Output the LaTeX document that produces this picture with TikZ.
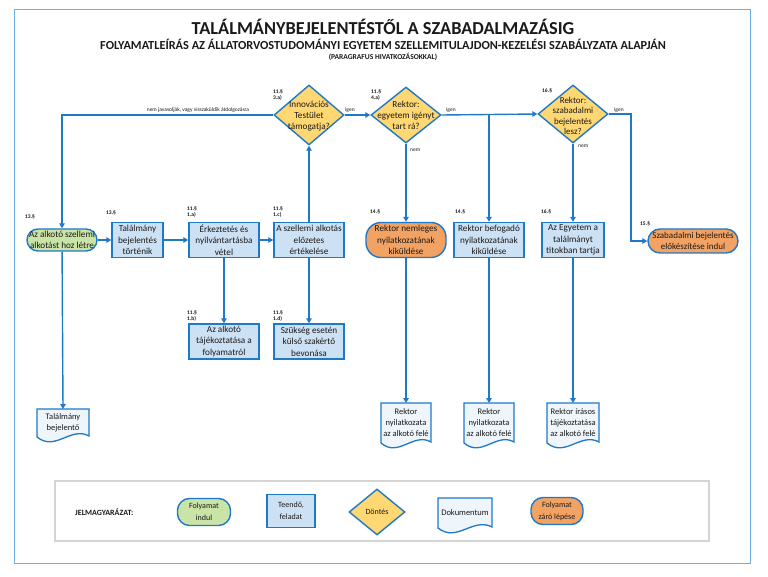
\documentclass[tikz,border=0pt]{standalone}
\usepackage{fontspec}
\setmainfont{Carlito}
\usetikzlibrary{shapes.geometric,arrows.meta}
\definecolor{lineblue}{HTML}{1F78C8}
\definecolor{boxfill}{HTML}{CDE1F4}
\definecolor{docfill}{HTML}{EEF5FB}
\definecolor{greenfill}{HTML}{C9E4A6}
\definecolor{orangefill}{HTML}{F2A262}
\definecolor{decfill}{HTML}{FFD873}
\definecolor{framec}{HTML}{6CB0E6}
\definecolor{legc}{HTML}{D4D4D4}
\definecolor{txt}{HTML}{1A1A1A}
\tikzset{
  base/.style={font=\fontsize{9.2}{11.5}\selectfont, align=center, inner sep=0pt, line width=1.4pt, draw=lineblue, text=txt},
  task/.style={base, rectangle, fill=boxfill},
  term/.style={base, rectangle, rounded corners=#1},
  dec/.style={diamond, draw=lineblue, fill=decfill, line width=1.4pt, inner sep=0pt},
  dtext/.style={font=\fontsize{9.2}{11}\selectfont, align=center, inner sep=0pt, text=txt},
  docst/.style={draw=lineblue, fill=docfill, line width=1.3pt},
  doctext/.style={font=\fontsize{8.5}{11}\selectfont, align=center, inner sep=0pt, text=txt},
  arr/.style={draw=lineblue, line width=1.4pt, -{Triangle[length=5pt,width=5.5pt]}},
  para/.style={font=\fontsize{5.5}{6.5}\selectfont\bfseries, align=left, inner sep=0pt, anchor=west, text=txt},
  elab/.style={font=\fontsize{5.5}{6.5}\selectfont, inner sep=0pt, text=txt},
  legtext/.style={font=\fontsize{8}{12}\selectfont, align=center, inner sep=0pt, text=txt},
}
\newcommand\docat[6]{%
  \path[docst] ({#2-#4/2},{#3}) -- ({#2+#4/2},{#3}) -- ({#2+#4/2},{#3+#5-6})
    .. controls ({#2+#4/2-0.35*#4},{#3+#5-16}) and ({#2-#4/2+0.35*#4},{#3+#5+10}) ..
    ({#2-#4/2},{#3+#5-5}) -- cycle;
  \node[doctext] (#1) at ({#2},{#3+(#5-6)/2}) {#6};
  \coordinate (#1t) at ({#2},{#3});
}
\begin{document}
\begin{tikzpicture}[x=1pt,y=-1pt]
\useasboundingbox (0,0) rectangle (768,577);
\fill[white] (0,0) rectangle (768,577);
\draw[framec, line width=1pt] (14,10) rectangle (750,563);

% titles
\node[font=\fontsize{18.3}{20}\selectfont\bfseries, text=txt, inner sep=0pt] (title) at (383,27) {TALÁLMÁNYBEJELENTÉSTŐL A SZABADALMAZÁSIG};
\node[font=\fontsize{12.3}{14}\selectfont\bfseries, text=txt, inner sep=0pt] (subtitle) at (383,44) {FOLYAMATLEÍRÁS AZ ÁLLATORVOSTUDOMÁNYI EGYETEM SZELLEMITULAJDON-KEZELÉSI SZABÁLYZATA ALAPJÁN};
\node[font=\fontsize{7.5}{9}\selectfont\bfseries, text=txt, inner sep=0pt] (ptitle) at (383,57) {(PARAGRAFUS HIVATKOZÁSOKKAL)};

% main row
\node[term=11pt, fill=greenfill, minimum width=70pt, minimum height=22pt] (start) at (62,240) {Az alkotó szellemi\\alkotást hoz létre};
\node[task, minimum width=51pt, minimum height=35pt] (tal) at (137.5,240) {Találmány\\bejelentés\\történik};
\node[task, minimum width=70pt, minimum height=35pt] (erk) at (224,240) {Érkeztetés és\\nyilvántartásba\\vétel};
\node[task, minimum width=70pt, minimum height=35pt] (ert) at (309,240) {A szellemi alkotás\\előzetes\\értékelése};
\node[task, minimum width=70pt, minimum height=35pt] (taj) at (224,341.5) {Az alkotó\\tájékoztatása a\\folyamatról};
\node[task, minimum width=70pt, minimum height=35pt] (szak) at (309,341.5) {Szükség esetén\\külső szakértő\\bevonása};
\node[term=15pt, fill=orangefill, minimum width=80pt, minimum height=35pt] (nemleg) at (406,240) {Rektor nemleges\\nyilatkozatának\\kiküldése};
\node[task, minimum width=70pt, minimum height=35pt] (bef) at (489,240) {Rektor befogadó\\nyilatkozatának\\kiküldése};
\node[task, minimum width=62pt, minimum height=35pt] (tit) at (573,240) {Az Egyetem a\\találmányt\\titokban tartja};
\node[term=12pt, fill=orangefill, minimum width=90pt, minimum height=24pt, font=\fontsize{9}{11.5}\selectfont] (szab) at (693,241) {Szabadalmi bejelentés\\előkészítése indul};

% decisions
\node[dec, minimum width=70pt, minimum height=60pt] (d1) at (309,115) {};
\node[dtext] (d1t) at (309,116) {Innovációs\\Testület\\támogatja?};
\node[dec, minimum width=70pt, minimum height=56pt] (d2) at (406,115) {};
\node[dtext] (d2t) at (406,115) {Rektor:\\egyetem igényt\\tart rá?};
\node[dec, minimum width=70pt, minimum height=58pt] (d3) at (573,114) {};
\node[dtext, font=\fontsize{9}{10.3}\selectfont] (d3t) at (573,116) {Rektor:\\szabadalmi\\bejelentés\\lesz?};

% documents
\docat{doc1}{63}{409}{52}{33}{Találmány\\bejelentő}
\docat{doc2}{406}{403}{50}{45}{Rektor\\nyilatkozata\\az alkotó felé}
\docat{doc3}{489}{403}{50}{45}{Rektor\\nyilatkozata\\az alkotó felé}
\docat{doc4}{573}{403}{52}{45}{Rektor írásos\\tájékoztatása\\az alkotó felé}

% paragraph labels
\node[para] (p1) at (25,217) {13.§};
\node[para] (p2) at (106,213) {13.§};
\node[para] (p3) at (187,212) {11.§\\1.a)};
\node[para] (p4) at (273,212) {11.§\\1.c)};
\node[para] (p5) at (187,316) {11.§\\1.b)};
\node[para] (p6) at (273,316) {11.§\\1.d)};
\node[para] (p7) at (273,95) {11.§\\3.a)};
\node[para] (p8) at (371,95) {11.§\\4.a)};
\node[para] (p9) at (542,91) {16.§};
\node[para] (p10) at (370,212) {14.§};
\node[para] (p11) at (455,212) {14.§};
\node[para] (p12) at (541,212) {16.§};
\node[para] (p13) at (640,224) {15.§};

% connectors
\coordinate (br) at (489,115);
\coordinate (c3) at (631,114);
\draw[arr] (start) -- (tal);
\draw[arr] (tal) -- (erk);
\draw[arr] (erk) -- (ert);
\draw[arr] (erk) -- (taj);
\draw[arr] (ert) -- (szak);
\draw[arr] (ert) -- (d1);
\draw[arr] (d1.west) -| (start.north);
\draw[arr] (d1) -- (d2);
\draw[arr] (d2) -- (nemleg);
\draw[arr] (d2.east) -- (d3.west);
\draw[arr] (br) -- (bef);
\draw[arr] (d3) -- (tit);
\draw[arr] (d3.east) -- (c3) |- (szab.west);
\draw[arr] (start) -- (doc1t);
\draw[arr] (nemleg) -- (doc2t);
\draw[arr] (bef) -- (doc3t);
\draw[arr] (tit) -- (doc4t);

% edge labels
\node[elab] (e1) at (198,110) {nem javasolják, vagy visszaküldik átdolgozásra};
\node[elab, anchor=west] (e2) at (345,110) {igen};
\node[elab, anchor=west] (e3) at (446,110) {igen};
\node[elab, anchor=west] (e4) at (410,150) {nem};
\node[elab, anchor=west] (e5) at (614,110) {igen};
\node[elab, anchor=west] (e6) at (578,146) {nem};

% legend
\draw[legc, line width=1.2pt] (55,481) rectangle (709,541);
\node[font=\fontsize{8}{10}\selectfont\bfseries, text=txt, inner sep=0pt, anchor=west] (leg) at (75,512) {JELMAGYARÁZAT:};
\node[term=12pt, fill=greenfill, legtext, minimum width=53pt, minimum height=27pt] (lg1) at (204,512) {Folyamat\\indul};
\node[task, legtext, minimum width=48pt, minimum height=33pt] (lg2) at (291,511) {Teendő,\\feladat};
\node[dec, minimum width=56pt, minimum height=46pt] (lg3) at (377,512) {};
\node[legtext] (lg3t) at (377,512) {Döntés};
\docat{lg4}{465}{498}{54}{35}{Dokumentum}
\node[term=12pt, fill=orangefill, legtext, minimum width=52pt, minimum height=27pt] (lg5) at (557,511) {Folyamat\\záró lépése};
\end{tikzpicture}
\end{document}
